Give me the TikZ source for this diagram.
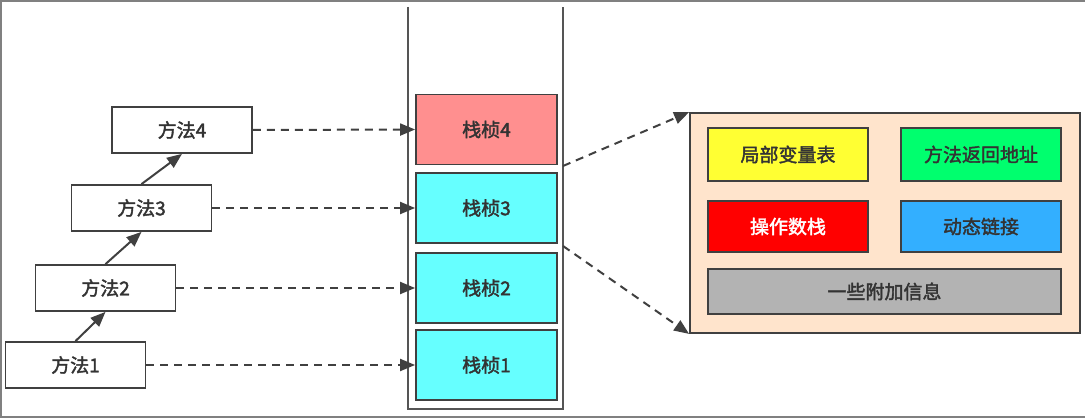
\documentclass[tikz,border=0pt]{standalone}
\usepackage{fontspec}
\setmainfont{Noto Sans CJK SC}
\newfontfamily\labfont{Noto Sans CJK SC}[FakeBold=2]
\usetikzlibrary{arrows.meta}
\definecolor{ln}{HTML}{404040}
\definecolor{txt}{HTML}{333333}
\definecolor{frame}{HTML}{555555}
\definecolor{pinkc}{HTML}{FF8F8F}
\definecolor{cyanc}{HTML}{66FFFF}
\definecolor{peach}{HTML}{FFE4CC}
\definecolor{yel}{HTML}{FFFF33}
\definecolor{grn}{HTML}{00FF6E}
\definecolor{redc}{HTML}{FF0000}
\definecolor{bluec}{HTML}{33AFFF}
\definecolor{grayc}{HTML}{B3B3B3}
\definecolor{border}{HTML}{808080}
\tikzset{
  box/.style={draw=ln, line width=1.8pt, inner sep=0pt, font=\labfont\fontsize{19}{19}\selectfont, text=txt},
  method/.style={box, fill=white, minimum width=140pt, minimum height=46pt},
  stackframe/.style={box, minimum width=141pt, minimum height=70pt},
  part/.style={box, minimum width=160pt, minimum height=53pt},
  dashedarrow/.style={draw=ln, line width=2pt, dash pattern=on 8pt off 6pt, -{Triangle[length=15pt,width=12pt]}},
  solidarrow/.style={draw=ln, line width=2pt, -{Triangle[length=15pt,width=12pt]}}
}
\begin{document}
\begin{tikzpicture}[x=1pt,y=-1pt]
\useasboundingbox (0,0) rectangle (1085,419);
% outer border
\draw[border, line width=2pt] (1085,1) -- (1,1) -- (1,417) -- (1085,417);
% stack container
\draw[frame, line width=2pt] (408,7) -- (408,409) -- (563,409) -- (563,7);
\coordinate (c4) at (563,166);
\coordinate (c3) at (563,246);
% methods
\node[method] (m1) at (75.5,365) {方法1};
\node[method] (m2) at (105.5,288) {方法2};
\node[method] (m3) at (141.5,208) {方法3};
\node[method] (m4) at (182,130) {方法4};
% stack frames
\node[stackframe, fill=pinkc] (f4) at (486.5,129.5) {栈桢4};
\node[stackframe, fill=cyanc] (f3) at (486.5,208) {栈桢3};
\node[stackframe, fill=cyanc] (f2) at (486.5,288) {栈桢2};
\node[stackframe, fill=cyanc] (f1) at (486.5,365) {栈桢1};
% detail box
\node[box, fill=peach, minimum width=390pt, minimum height=220pt] (detail) at (885,223) {};
\node[part, fill=yel] (lv) at (788,154.5) {局部变量表};
\node[part, fill=grn] (ra) at (981,154.5) {方法返回地址};
\node[part, fill=redc, text=white, minimum height=51pt] (os) at (788,226.5) {操作数栈};
\node[part, fill=bluec, minimum height=51pt] (dl) at (981,226.5) {动态链接};
\node[box, fill=grayc, minimum width=353pt, minimum height=45pt] (ai) at (884.5,291.5) {一些附加信息};
% arrows between methods
\draw[solidarrow] (m1.north) -- (m2.south);
\draw[solidarrow] (m2.north) -- (m3.south);
\draw[solidarrow] (m3.north) -- (m4.south);
% dashed arrows to frames
\draw[dashedarrow] (m1.east) -- (f1.west);
\draw[dashedarrow] (m2.east) -- (f2.west);
\draw[dashedarrow] (m3.east) -- (f3.west);
\draw[dashedarrow] (m4.east) -- (f4.west);
% to detail
\draw[dashedarrow] (c4) -- (detail.north west);
\draw[dashedarrow] (c3) -- (detail.south west);
\end{tikzpicture}
\end{document}
